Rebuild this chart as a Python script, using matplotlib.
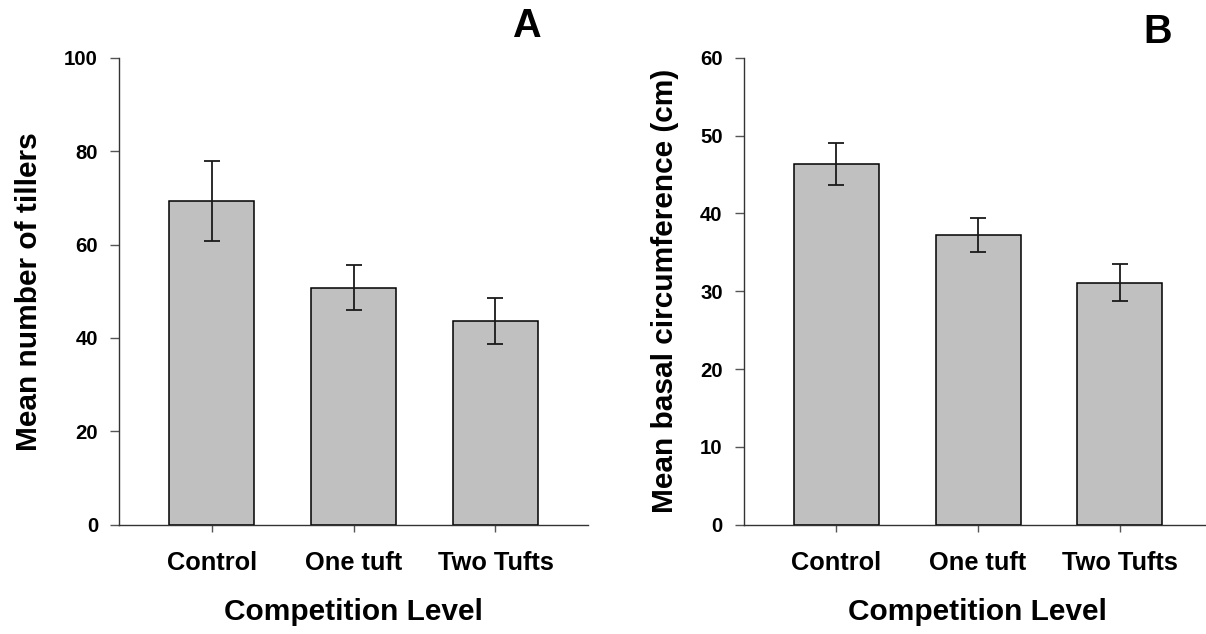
import matplotlib
matplotlib.use("Agg")
import matplotlib.pyplot as plt

plt.rcParams["font.family"] = ["Liberation Sans", "DejaVu Sans"]
plt.rcParams["font.weight"] = "bold"

levels = ["Control", "One tuft", "Two Tufts"]

tillers_mean = [69.3, 50.75, 43.6]
tillers_err = [8.5, 4.85, 4.95]

circ_mean = [46.35, 37.25, 31.1]
circ_err = [2.65, 2.15, 2.4]

W, H = 1206, 634


def draw_panel(ax, means, errs, ymax, ystep, ylabel):
    x = list(range(len(levels)))
    ax.bar(x, means, width=0.6, color="#c0c0c0", edgecolor="black",
           linewidth=1.1, zorder=2)
    ax.errorbar(x, means, yerr=errs, fmt="none", ecolor="#1a1a1a",
                elinewidth=1.3, capsize=5.6, capthick=1.3, zorder=3)
    ax.set_xlim(-0.652, 2.65)
    ax.set_ylim(0, ymax)
    ax.set_yticks(range(0, ymax + 1, ystep))
    ax.set_xticks(x)
    ax.set_xticklabels(levels)
    for side in ("top", "right"):
        ax.spines[side].set_visible(False)
    for side in ("left", "bottom"):
        ax.spines[side].set_linewidth(1.0)
        ax.spines[side].set_color("#333333")
    ax.tick_params(axis="y", length=6.7, width=1.0, color="#555555",
                   pad=8.6, labelsize=14.7)
    ax.tick_params(axis="x", length=5, width=1.0, color="#555555",
                   pad=13.8, labelsize=18.3)
    ax.set_xlabel("Competition Level", fontsize=21.5, fontweight="bold",
                  labelpad=17)
    ax.set_ylabel(ylabel, fontsize=21.5, fontweight="bold", labelpad=15)


fig = plt.figure(figsize=(W / 100, H / 100), dpi=100)

bottom = (H - 524.7) / H
height = (524.7 - 57.7) / H

ax_a = fig.add_axes([119.3 / W, bottom, 468.4 / W, height])
draw_panel(ax_a, tillers_mean, tillers_err, 100, 20, "Mean number of tillers")

ax_b = fig.add_axes([744 / W, bottom, 467.8 / W, height])
draw_panel(ax_b, circ_mean, circ_err, 60, 10, "Mean basal circumference (cm)")

fig.text(526.5 / W, (H - 36.7) / H, "A", fontsize=28.5, fontweight="bold",
         ha="center", va="baseline")
fig.text(1157.8 / W, (H - 43.3) / H, "B", fontsize=28.5, fontweight="bold",
         ha="center", va="baseline")

fig.savefig("out.png", dpi=100)
